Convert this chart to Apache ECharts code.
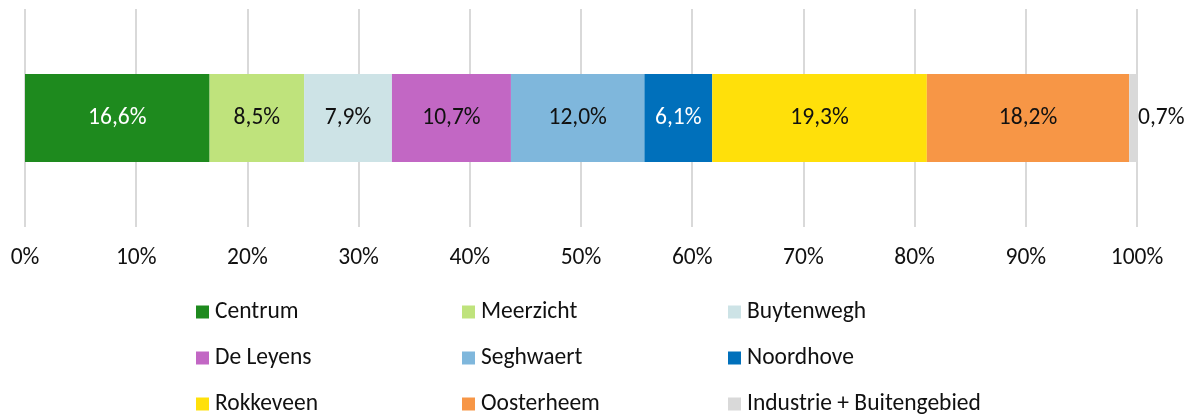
<!DOCTYPE html>
<html>
<head>
<meta charset="utf-8">
<script src="https://cdn.jsdelivr.net/npm/echarts@6/dist/echarts.min.js"></script>
<style>
  html, body { margin: 0; padding: 0; background: #fff; }
  #chart { width: 1194px; height: 414px; }
</style>
</head>
<body>
<div id="chart"></div>
<script>
// wijken en aandeel (%)
const wijken = ["Centrum", "Meerzicht", "Buytenwegh", "De Leyens", "Seghwaert", "Noordhove", "Rokkeveen", "Oosterheem", "Industrie + Buitengebied"];
const aandeel = [16.6, 8.5, 7.9, 10.7, 12.0, 6.1, 19.3, 18.2, 0.7];
const kleuren = ["#1E8A1E", "#BFE37C", "#CDE3E6", "#C267C4", "#7FB7DC", "#0070BB", "#FFE00A", "#F79646", "#D9D9D9"];
const labelKleuren = ["#fff", "#111", "#111", "#111", "#111", "#fff", "#111", "#111", "#111"];
const xTicks = [0, 10, 20, 30, 40, 50, 60, 70, 80, 90, 100];

const font = "Carlito, 'Liberation Sans', sans-serif";
const fs = 23.5;

const fmt = (v) => v.toFixed(1).replace(".", ",") + "%";

const series = wijken.map((naam, i) => ({
  name: naam,
  type: "bar",
  stack: "totaal",
  barWidth: 88,
  data: [aandeel[i]],
  itemStyle: { color: kleuren[i] },
  label: {
    show: true,
    position: i === wijken.length - 1 ? "right" : "inside",
    distance: 1,
    color: labelKleuren[i],
    fontFamily: font,
    fontSize: fs,
    formatter: (p) => fmt(p.value),
  },
}));

// legenda: 3 x 3 raster, elk item apart geplaatst
const kolomLeft = [196, 462, 728];
const rijTop = [300, 346, 392];
const legends = wijken.map((naam, i) => ({
  left: kolomLeft[i % 3],
  top: rijTop[Math.floor(i / 3)],
  padding: 0,
  itemWidth: 13,
  itemHeight: 13,
  icon: "rect",
  data: [naam],
  textStyle: {
    fontFamily: font,
    fontSize: fs,
    color: "#111",
    padding: [0, 0, 0, 1],
  },
}));

const myChart = echarts.init(document.getElementById("chart"));
myChart.setOption({
  animation: false,
  grid: { left: 25, right: 57, top: 9, height: 218 },
  legend: legends,
  xAxis: {
    type: "value",
    min: xTicks[0],
    max: xTicks[xTicks.length - 1],
    interval: 10,
    axisLine: { show: false },
    axisTick: { show: false },
    axisLabel: {
      margin: 19,
      fontFamily: font,
      fontSize: fs,
      color: "#111",
      formatter: "{value}%",
    },
    splitLine: { lineStyle: { color: "#D9D9D9", width: 2 } },
  },
  yAxis: {
    type: "category",
    data: [""],
    axisLine: { show: false },
    axisTick: { show: false },
    axisLabel: { show: false },
  },
  series: series,
});
</script>
</body>
</html>
